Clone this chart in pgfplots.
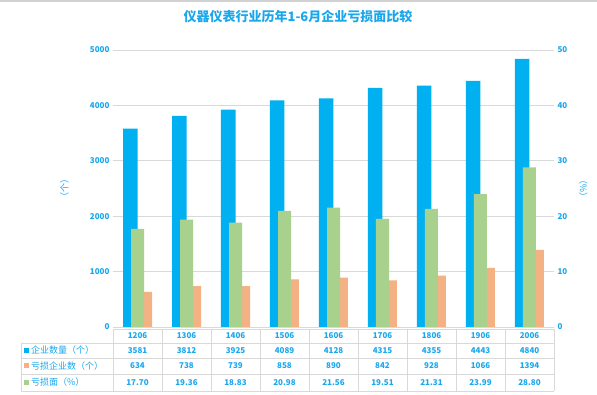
\documentclass[border=0pt]{standalone}
\usepackage{pgfplots}
\usepackage{pgfplotstable}
\pgfplotsset{compat=1.18}
\usepackage{fontspec}
\setmainfont{Noto Sans CJK SC}
\definecolor{cblue}{HTML}{00B0F0}
\definecolor{corange}{HTML}{F4B183}
\definecolor{cgreen}{HTML}{A9D18E}
\definecolor{ctext}{HTML}{1AA7EC}
\definecolor{cgrid}{HTML}{D9D9D9}
\pgfplotstableread{
x yr cnt loss pct
0 1206 3581 634 17.70
1 1306 3812 738 19.36
2 1406 3925 739 18.83
3 1506 4089 858 20.98
4 1606 4128 890 21.56
5 1706 4315 842 19.51
6 1806 4355 928 21.31
7 1906 4443 1066 23.99
8 2006 4840 1394 28.80
}\data
\begin{document}
\begin{tikzpicture}[x=1pt,y=1pt]
\path[use as bounding box,fill=white] (0,0) rectangle (597,395);
\fill[gray!35] (0,393) rectangle (597,395);
\node[text=ctext,font=\fontsize{13}{15}\selectfont\bfseries] at (298,378) {仪器仪表行业历年1-6月企业亏损面比较};
\begin{axis}[
  at={(113pt,68pt)}, anchor=south west,
  scale only axis, width=441pt, height=277pt,
  xmin=-0.5, xmax=8.5, ymin=0, ymax=5000,
  axis y line*=left, axis x line=none,
  axis line style={draw=none},
  xtick=\empty,
  ytick={0,1000,...,5000},
  ymajorgrids, grid style={cgrid,line width=0.8pt},
  major tick style={draw=none},
  /pgf/number format/assume math mode=true,
  /pgf/number format/1000 sep={},
  yticklabel style={text=ctext,font=\fontsize{8}{9}\selectfont\bfseries},
  ylabel={（个）}, ylabel style={text=ctext,font=\fontsize{9}{10}\selectfont,at={(axis description cs:-0.11,0.5)},anchor=center},
  clip=false,
]
\addplot[ybar, bar width=14.5pt, bar shift=-7.25pt, fill=cblue, draw=none] table[x=x,y=cnt]{\data};
\addplot[ybar, bar width=14.5pt, bar shift=7.25pt, fill=corange, draw=none] table[x=x,y=loss]{\data};
\end{axis}
\begin{axis}[
  at={(113pt,68pt)}, anchor=south west,
  scale only axis, width=441pt, height=277pt,
  xmin=-0.5, xmax=8.5, ymin=0, ymax=50,
  axis y line*=right, axis x line=none,
  axis line style={draw=none},
  xtick=\empty,
  ytick={0,10,...,50},
  major tick style={draw=none},
  /pgf/number format/assume math mode=true,
  yticklabel style={text=ctext,font=\fontsize{8}{9}\selectfont\bfseries},
  ylabel={（\%）}, ylabel style={text=ctext,font=\fontsize{9}{10}\selectfont,at={(axis description cs:1.066,0.5)},anchor=center},
  clip=false,
]
\addplot[ybar, bar width=13pt, bar shift=0pt, fill=cgreen, draw=none] table[x=x,y=pct]{\data};
\end{axis}
% table
\begin{scope}[cgrid, line width=0.6pt]
\draw (113,66) -- (554,66);
\draw (21,52) -- (554,52);
\draw (21,37) -- (554,37);
\draw (21,21) -- (554,21);
\draw (21,4) -- (554,4);
\draw (21,52) -- (21,4);
\foreach \i in {0,...,9} \draw (113+49*\i,66) -- (113+49*\i,4);
\end{scope}
\begin{scope}[text=ctext, font=\fontsize{8}{9}\selectfont\bfseries]
\foreach \v [count=\i from 0] in {1206,1306,1406,1506,1606,1706,1806,1906,2006}
  \node at (137.5+49*\i,59.5) {\v};
\foreach \v [count=\i from 0] in {3581,3812,3925,4089,4128,4315,4355,4443,4840}
  \node at (137.5+49*\i,44.5) {\v};
\foreach \v [count=\i from 0] in {634,738,739,858,890,842,928,1066,1394}
  \node at (137.5+49*\i,29) {\v};
\foreach \v [count=\i from 0] in {17.70,19.36,18.83,20.98,21.56,19.51,21.31,23.99,28.80}
  \node at (137.5+49*\i,12.5) {\v};
\end{scope}
\begin{scope}[text=ctext, font=\fontsize{9}{10}\selectfont]
\fill[cblue] (24,42) rectangle (29,47);
\node[anchor=west,inner sep=0pt] at (31,44.5) {企业数量（个）};
\fill[corange] (24,26.5) rectangle (29,31.5);
\node[anchor=west,inner sep=0pt] at (31,29) {亏损企业数（个）};
\fill[cgreen] (24,10) rectangle (29,15);
\node[anchor=west,inner sep=0pt] at (31,12.5) {亏损面（\%）};
\end{scope}
\end{tikzpicture}
\end{document}
